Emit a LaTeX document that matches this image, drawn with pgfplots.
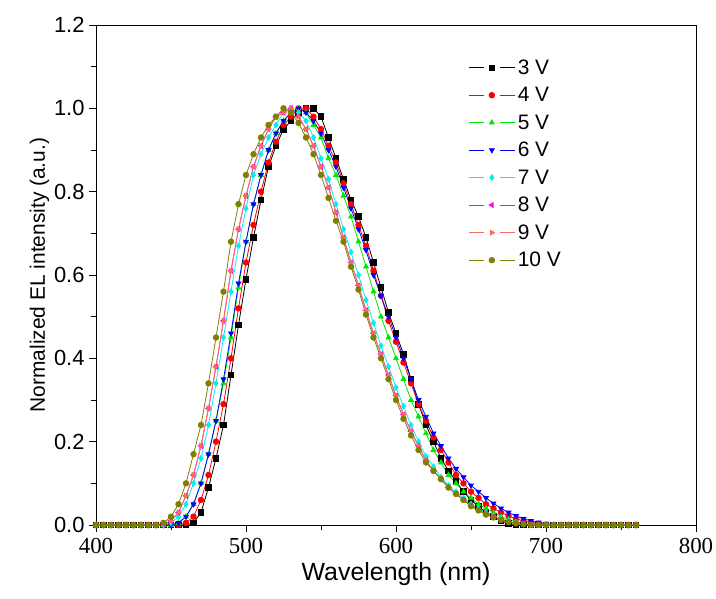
\documentclass[border=0pt]{standalone}
\usepackage{pgfplots}
\pgfplotsset{compat=1.18}
\usepackage{pgfplotstable}
\usepackage{fontspec}
\setmainfont{Liberation Sans}
\newfontfamily\serifdig{Liberation Serif}
\definecolor{cg}{RGB}{0,230,0}
\definecolor{cc}{RGB}{0,240,240}
\definecolor{cmag}{RGB}{255,0,255}
\definecolor{co}{RGB}{245,110,90}
\definecolor{cl}{RGB}{128,128,0}
\pgfplotstableread{
x v3 v4 v5 v6 v7 v8 v9 v10
400 0 0 0 0 0 0 0 0
405 0 0 0 0 0 0 0 0
410 0 0 0 0 0 0 0 0
415 0 0 0 0 0 0 0 0
420 0 0 0 0 0 0 0 0
425 0 0 0 0 0 0 0 0
430 0 0 0 0 0 0 0 0
435 0 0 0 0 0 0 0 0
440 0 0 0 0 0 0 0 0
445 0 0 0 0 0 0.003 0.003 0.005
450 0 0 0 0 0.005 0.01 0.01 0.02
455 0 0 0.005 0.005 0.02 0.03 0.03 0.05
460 0 0.005 0.02 0.02 0.05 0.07 0.07 0.10
465 0.005 0.02 0.05 0.05 0.10 0.12 0.12 0.17
470 0.03 0.06 0.10 0.10 0.16 0.19 0.19 0.24
475 0.09 0.12 0.17 0.17 0.24 0.28 0.28 0.34
480 0.16 0.20 0.25 0.25 0.34 0.38 0.38 0.45
485 0.24 0.29 0.34 0.35 0.45 0.49 0.49 0.56
490 0.36 0.40 0.45 0.46 0.56 0.61 0.61 0.68
495 0.48 0.52 0.57 0.58 0.67 0.71 0.71 0.77
500 0.59 0.63 0.68 0.68 0.76 0.79 0.79 0.84
505 0.69 0.72 0.77 0.77 0.84 0.86 0.86 0.89
510 0.78 0.80 0.84 0.84 0.89 0.91 0.91 0.93
515 0.86 0.87 0.90 0.90 0.93 0.95 0.95 0.96
520 0.91 0.92 0.94 0.94 0.96 0.98 0.98 0.98
525 0.95 0.96 0.97 0.97 0.99 0.99 0.99 1.0
530 0.97 0.98 0.99 0.99 1.0 1.0 1.0 0.99
535 0.99 1.0 1.0 1.0 0.99 0.98 0.98 0.965
540 1.0 1.0 0.99 0.99 0.97 0.95 0.95 0.93
545 1.0 0.98 0.96 0.97 0.93 0.91 0.91 0.89
550 0.98 0.95 0.93 0.94 0.88 0.86 0.86 0.84
555 0.93 0.91 0.88 0.90 0.83 0.81 0.81 0.785
560 0.88 0.87 0.84 0.86 0.77 0.75 0.75 0.73
565 0.83 0.82 0.79 0.81 0.71 0.69 0.69 0.68
570 0.78 0.77 0.74 0.76 0.655 0.63 0.63 0.62
575 0.74 0.72 0.68 0.71 0.60 0.575 0.575 0.565
580 0.69 0.67 0.62 0.66 0.54 0.515 0.515 0.505
585 0.63 0.61 0.56 0.60 0.485 0.46 0.46 0.45
590 0.57 0.55 0.50 0.55 0.43 0.41 0.41 0.40
595 0.51 0.49 0.45 0.50 0.38 0.36 0.36 0.35
600 0.46 0.44 0.40 0.45 0.33 0.31 0.31 0.30
605 0.41 0.39 0.35 0.40 0.285 0.265 0.265 0.255
610 0.35 0.34 0.30 0.35 0.24 0.225 0.225 0.215
615 0.29 0.29 0.26 0.30 0.20 0.19 0.19 0.18
620 0.24 0.25 0.22 0.26 0.165 0.155 0.155 0.15
625 0.20 0.21 0.18 0.22 0.14 0.13 0.13 0.13
630 0.16 0.18 0.15 0.19 0.115 0.11 0.11 0.11
635 0.13 0.15 0.12 0.16 0.095 0.09 0.09 0.09
640 0.105 0.12 0.10 0.135 0.08 0.075 0.075 0.075
645 0.08 0.10 0.08 0.115 0.065 0.06 0.06 0.06
650 0.06 0.08 0.065 0.095 0.05 0.047 0.047 0.045
655 0.045 0.065 0.05 0.08 0.04 0.037 0.037 0.035
660 0.03 0.05 0.04 0.065 0.03 0.028 0.028 0.025
665 0.02 0.04 0.03 0.052 0.022 0.02 0.02 0.018
670 0.01 0.03 0.02 0.04 0.015 0.013 0.013 0.012
675 0.004 0.022 0.013 0.03 0.009 0.008 0.008 0.007
680 0 0.015 0.008 0.022 0.005 0.004 0.004 0.004
685 0 0.01 0.004 0.015 0.002 0.002 0.002 0.002
690 0 0.006 0.002 0.01 0 0 0 0
695 0 0.003 0 0.006 0 0 0 0
700 0 0.001 0 0.003 0 0 0 0
705 0 0 0 0.001 0 0 0 0
710 0 0 0 0 0 0 0 0
715 0 0 0 0 0 0 0 0
720 0 0 0 0 0 0 0 0
725 0 0 0 0 0 0 0 0
730 0 0 0 0 0 0 0 0
735 0 0 0 0 0 0 0 0
740 0 0 0 0 0 0 0 0
745 0 0 0 0 0 0 0 0
750 0 0 0 0 0 0 0 0
755 0 0 0 0 0 0 0 0
760 0 0 0 0 0 0 0 0
}\data
\begin{document}
\begin{tikzpicture}
\useasboundingbox (-96bp,-74bp) rectangle (620bp,525bp);
\begin{axis}[
  scale only axis, width=600bp, height=500bp,
  xmin=400, xmax=800, ymin=0, ymax=1.2,
  xtick={400,500,...,800}, ytick={0,0.2,...,1.2},
  xticklabels={{\serifdig 400},{\serifdig 500},{\serifdig 600},{\serifdig 700},{\serifdig 800}},
  yticklabels={0.0,0.2,0.4,0.6,0.8,1.0,1.2},
  minor x tick num=1, minor y tick num=1,
  xtick pos=left, ytick pos=left, tick align=outside,
  major tick length=7bp, minor tick length=5bp,
  every tick/.style={black, line width=0.8pt},
  axis line style={line width=0.9pt},
  yticklabel style={font=\fontsize{22}{24}\selectfont, xshift=-1bp},
  xticklabel style={font=\fontsize{23}{25}\selectfont, yshift=-3bp},
  xlabel style={font=\fontsize{25}{28}\selectfont, yshift=-2bp},
  ylabel style={font=\fontsize{21}{24}\selectfont, yshift=-2bp},
  xlabel={Wavelength (nm)}, ylabel={Normalized EL intensity (a.u.)},
  legend style={draw=none, fill=none, at={(0.62,0.935)}, anchor=north west,
    font=\fontsize{21}{24}\selectfont, row sep=7.5bp, inner sep=0pt},
  legend cell align=left,
  legend image code/.code={
    \draw[#1,mark=none] (0cm,0cm) -- (0.55cm,0cm);
    \draw[#1,mark=none] (1.1cm,0cm) -- (1.65cm,0cm);
    \draw[#1,only marks] plot coordinates {(0.82cm,0cm)};},
  every axis plot/.append style={line width=0.8pt, mark size=2.8pt},
]
\addplot[black, mark=square*] table[x=x,y=v3]{\data};
\addplot[red, mark=*] table[x=x,y=v4]{\data};
\addplot[cg, mark=triangle*] table[x=x,y=v5]{\data};
\addplot[blue, mark=triangle*, mark options={rotate=180}] table[x=x,y=v6]{\data};
\addplot[cc, mark=diamond*] table[x=x,y=v7]{\data};
\addplot[cmag, mark=triangle*, mark options={rotate=90}] table[x=x,y=v8]{\data};
\addplot[co, mark=triangle*, mark options={rotate=-90}] table[x=x,y=v9]{\data};
\addplot[cl, mark=*] table[x=x,y=v10]{\data};
\legend{3 V,4 V,5 V,6 V,7 V,8 V,9 V,10 V}
\end{axis}
\end{tikzpicture}
\end{document}
